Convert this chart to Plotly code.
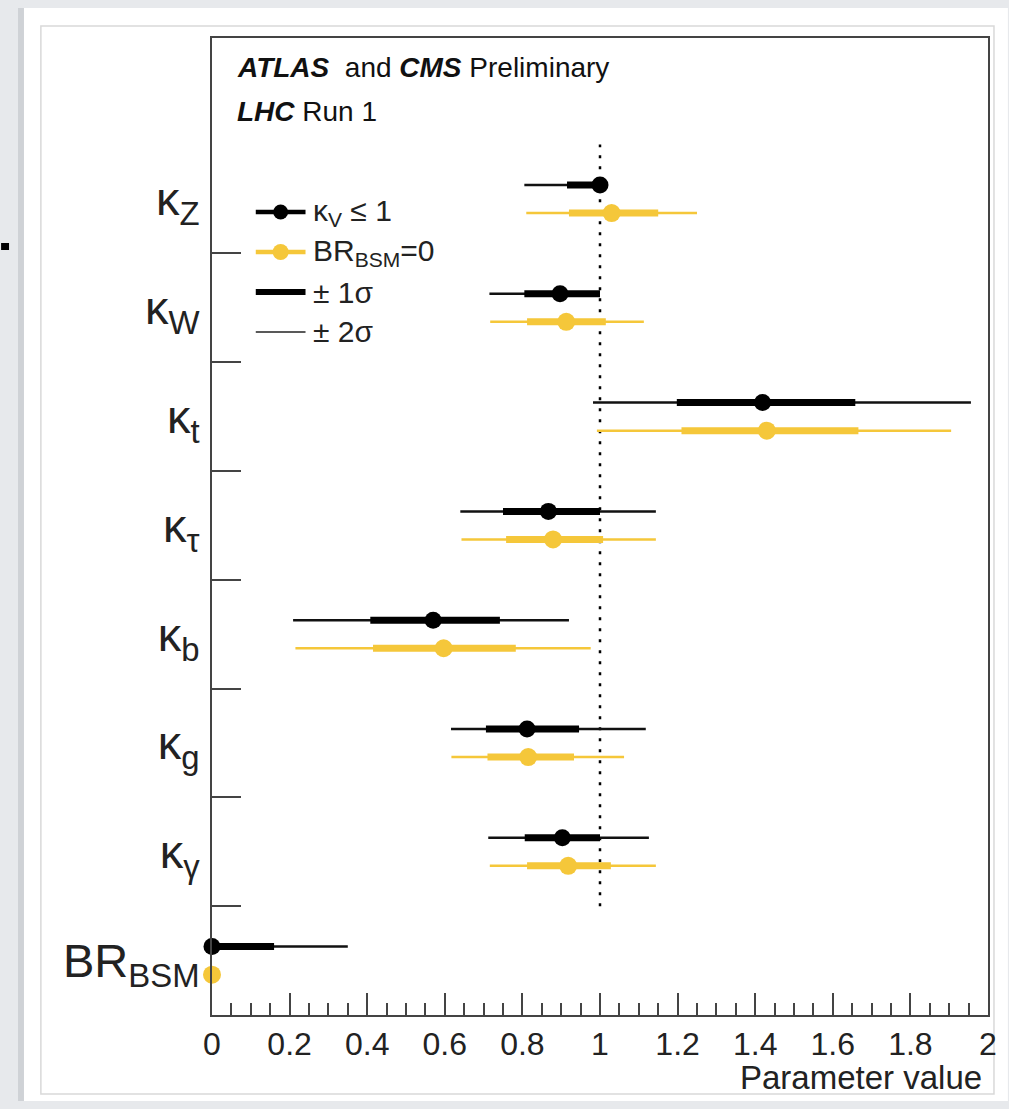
import plotly.graph_objects as go

# ---------------- data (bottom -> top) ----------------
labels = ["BR<sub>BSM</sub>", "κ<sub>γ</sub>", "κ<sub>g</sub>", "κ<sub>b</sub>",
          "κ<sub>τ</sub>", "κ<sub>t</sub>", "κ<sub>W</sub>", "κ<sub>Z</sub>"]

# kappa_V <= 1 fit (black)
kv_central = [0.000, 0.903, 0.812, 0.570, 0.867, 1.419, 0.897, 1.000]
kv_lo1 = [0.000, 0.806, 0.706, 0.408, 0.750, 1.198, 0.805, 0.915]
kv_hi1 = [0.160, 1.000, 0.946, 0.742, 1.000, 1.658, 1.000, 1.000]
kv_lo2 = [0.000, 0.712, 0.616, 0.209, 0.640, 0.982, 0.715, 0.805]
kv_hi2 = [0.350, 1.126, 1.118, 0.920, 1.144, 1.956, 1.000, 1.000]

# BR_BSM = 0 fit (yellow)
br_central = [0.000, 0.918, 0.815, 0.597, 0.879, 1.430, 0.913, 1.030]
br_lo1 = [None, 0.812, 0.710, 0.415, 0.758, 1.210, 0.812, 0.920]
br_hi1 = [None, 1.028, 0.933, 0.783, 1.008, 1.666, 1.015, 1.150]
br_lo2 = [None, 0.716, 0.617, 0.215, 0.643, 0.992, 0.717, 0.810]
br_hi2 = [None, 1.144, 1.062, 0.976, 1.144, 1.905, 1.113, 1.250]

sm_value = 1.0
x_ticks = [0, 0.2, 0.4, 0.6, 0.8, 1, 1.2, 1.4, 1.6, 1.8, 2]

# ---------------- style ----------------
BLACK = "#000000"
YELLOW = "#F5C73A"
AXC = "#444444"
FONT = "Liberation Sans, Arial, Helvetica, sans-serif"
OFF = 0.129  # vertical offset of the two fits inside a category row

W_FIG, H_FIG = 1009, 1109
L, R, T, B = 212, 992, 38, 1015


def px(x):
    return (x - L) / (R - L)


def py(y):
    return (B - y) / (B - T)


def segs(lo, hi, off):
    xs, ys = [], []
    for i, (a, b) in enumerate(zip(lo, hi)):
        if a is None or b is None:
            continue
        xs += [a, b, None]
        ys += [i + off, i + off, None]
    return xs, ys


fig = go.Figure()

# SM reference line
fig.add_trace(go.Scatter(x=[sm_value, sm_value], y=[0.5, len(labels) - 0.5], mode="lines",
                         line=dict(color=BLACK, width=2.5, dash="3px,8px"),
                         showlegend=False, hoverinfo="skip"))

# black series
x2, y2 = segs(kv_lo2, kv_hi2, OFF)
fig.add_trace(go.Scatter(x=x2, y=y2, mode="lines", line=dict(color="#111111", width=2.5),
                         showlegend=False, cliponaxis=False, hoverinfo="skip"))
x1, y1 = segs(kv_lo1, kv_hi1, OFF)
fig.add_trace(go.Scatter(x=x1, y=y1, mode="lines", line=dict(color=BLACK, width=7),
                         showlegend=False, cliponaxis=False, hoverinfo="skip"))
fig.add_trace(go.Scatter(x=kv_central, y=[i + OFF for i in range(len(labels))], mode="markers",
                         marker=dict(color=BLACK, size=17), name="κ<sub>V</sub> ≤ 1",
                         showlegend=False, cliponaxis=False))

# yellow series
x2, y2 = segs(br_lo2, br_hi2, -OFF)
fig.add_trace(go.Scatter(x=x2, y=y2, mode="lines", line=dict(color=YELLOW, width=2.5),
                         showlegend=False, cliponaxis=False, hoverinfo="skip"))
x1, y1 = segs(br_lo1, br_hi1, -OFF)
fig.add_trace(go.Scatter(x=x1, y=y1, mode="lines", line=dict(color=YELLOW, width=7),
                         showlegend=False, cliponaxis=False, hoverinfo="skip"))
fig.add_trace(go.Scatter(x=br_central, y=[i - OFF for i in range(len(labels))], mode="markers",
                         marker=dict(color=YELLOW, size=18), name="BR<sub>BSM</sub>=0",
                         showlegend=False, cliponaxis=False))

# ---------------- background (slide look) ----------------
shapes = [
    dict(type="rect", xref="paper", yref="paper", x0=px(22), x1=px(1012), y0=py(1101), y1=py(8),
         fillcolor="white", line=dict(width=0), layer="below"),
    dict(type="rect", xref="paper", yref="paper", x0=px(17), x1=px(23), y0=py(1101), y1=py(8),
         fillcolor="#cfd2d6", line=dict(width=0), layer="below"),
    dict(type="rect", xref="paper", yref="paper", x0=px(40), x1=px(998), y0=py(1094), y1=py(26),
         fillcolor="white", line=dict(color="#d9d9d9", width=1.5), layer="below"),
    dict(type="rect", xref="paper", yref="paper", x0=px(0), x1=px(8), y0=py(250), y1=py(243),
         fillcolor="black", line=dict(width=0), layer="below"),
]

# ---------------- manual legend ----------------
leg_rows = [
    (212, BLACK, 4.5, 15, "κ<sub>V</sub> ≤ 1"),
    (252, YELLOW, 4.5, 16, "BR<sub>BSM</sub>=0"),
    (292, BLACK, 6, 0, "± 1σ"),
    (332, "#222222", 1.5, 0, "± 2σ"),
]
annotations = []
for yy, col, lw, msize, txt in leg_rows:
    shapes.append(dict(type="line", xref="paper", yref="paper", x0=px(256), x1=px(306),
                       y0=py(yy), y1=py(yy), line=dict(color=col, width=lw)))
    if msize:
        r = msize / 2
        shapes.append(dict(type="circle", xref="paper", yref="paper",
                           x0=px(281 - r), x1=px(281 + r), y0=py(yy + r), y1=py(yy - r),
                           fillcolor=col, line=dict(color=col, width=0)))
    annotations.append(dict(text=txt, xref="paper", yref="paper", x=px(312), y=py(yy),
                            xanchor="left", yanchor="middle", showarrow=False,
                            font=dict(size=30, color="#222222", family=FONT)))

annotations += [
    dict(text="<b><i>ATLAS</i></b>  and <b><i>CMS</i></b> Preliminary", xref="paper", yref="paper",
         x=px(235), y=py(68), xanchor="left", yanchor="middle", showarrow=False,
         font=dict(size=28, color="#111111", family=FONT)),
    dict(text="<b><i>LHC</i></b> Run 1", xref="paper", yref="paper",
         x=px(235), y=py(112), xanchor="left", yanchor="middle", showarrow=False,
         font=dict(size=28, color="#111111", family=FONT)),
    dict(text="Parameter value", xref="paper", yref="paper",
         x=px(988), y=py(1077), xanchor="right", yanchor="middle", showarrow=False,
         font=dict(size=33, color="#222222", family=FONT)),
]

fig.update_layout(
    width=W_FIG, height=H_FIG,
    margin=dict(l=L, r=W_FIG - R, t=T, b=H_FIG - B, pad=0),
    paper_bgcolor="#e7e9ec",
    plot_bgcolor="white",
    showlegend=False,
    shapes=shapes,
    annotations=annotations,
    xaxis=dict(range=[0, 2], tickmode="array", tickvals=x_ticks,
               ticks="inside", ticklen=22, tickwidth=2, tickcolor=AXC,
               minor=dict(dtick=0.05, tick0=0, ticks="inside", ticklen=12, tickwidth=2, tickcolor=AXC),
               showline=True, linecolor=AXC, linewidth=2, mirror=True,
               showgrid=False, zeroline=False,
               tickfont=dict(size=32, color="#222222", family=FONT)),
    yaxis=dict(range=[-0.5, 8.48], tickmode="array", tickvals=list(range(len(labels))),
               ticktext=labels, ticks="", ticklabelstandoff=1,
               minor=dict(tickmode="array", tickvals=[i + 0.5 for i in range(len(labels) - 1)],
                          ticks="inside", ticklen=29, tickwidth=2, tickcolor=AXC),
               showline=True, linecolor=AXC, linewidth=2, mirror=True,
               showgrid=False, zeroline=False,
               tickfont=dict(size=47, color="#222222", family=FONT)),
)

fig.write_html("out.html")
